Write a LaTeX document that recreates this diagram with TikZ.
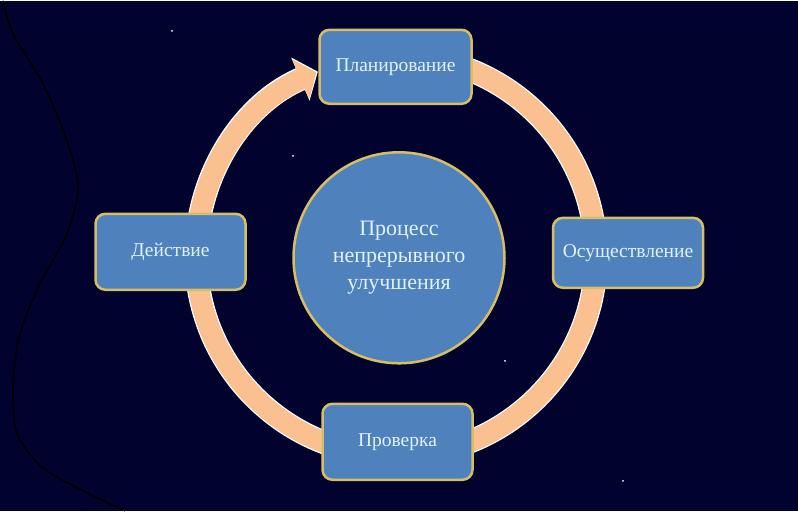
\documentclass[tikz,border=0pt]{standalone}
\usepackage{fontspec}
\setmainfont{Liberation Serif}
\usetikzlibrary{positioning}
\usetikzlibrary{arrows.meta}

\definecolor{nightbg}{RGB}{2,2,46}
\definecolor{boxblue}{RGB}{79,129,189}
\definecolor{boxgold}{RGB}{214,190,102}
\definecolor{boxtext}{RGB}{225,242,255}
\definecolor{ringpeach}{RGB}{250,192,143}

\begin{document}
\begin{tikzpicture}[x=1pt, y=1pt, line width=2.5pt, align=center,
    stepbox/.style={rounded corners=10pt, draw=boxgold, fill=boxblue, text=boxtext,
      minimum width=150pt, minimum height=74pt, inner sep=0pt,
      font=\fontsize{19.5}{23}\selectfont},
    hubdisc/.style={circle, draw=boxgold, fill=boxblue, text=boxtext,
      minimum size=211pt, inner sep=0pt, font=\fontsize{22}{27}\selectfont},
    star/.style={fill=white}
  ]
    % Background
    \fill [nightbg] (0,0) rectangle (798,510);
    \draw [black, line width=1.6pt] plot [smooth] coordinates {(3,510) (13,477) (43,427) (67,370) (78,323) (67,277) (40,227) (20,177) (13,127) (17,77) (43,43) (83,20) (110,7) (125,0)};
    \fill [star] (172,480) circle (1pt);
    \fill [star] (293,355) circle (1pt);
    \fill [star] (505,150) circle (1pt);
    \fill [star] (623,30) circle (1pt);

    % Ring
    \coordinate (hub) at (396,255);
    \draw [white, line width=23.5pt, -{Triangle[length=19pt,width=46pt]}] ([shift={(95:200)}]hub) arc [start angle=95, end angle=-247, radius=200];
    \draw [ringpeach, line width=21pt, -{Triangle[length=17pt,width=43pt]}] ([shift={(95:200)}]hub) arc [start angle=95, end angle=-246.5, radius=200];

    % Nodes
    \node (centre) [hubdisc] at (399,253) {Процесс\\непрерывного\\улучшения};
    \node (plan) [stepbox, minimum width=152pt] at (395.5,444) {Планирование};
    \node (doing) [stepbox, minimum height=70pt] at (628,258) {Осуществление};
    \node (check) [stepbox, minimum height=76pt] at (397.5,69) {Проверка};
    \node (act) [stepbox, minimum height=76pt] at (170.5,259) {Действие};
\end{tikzpicture}
\end{document}
